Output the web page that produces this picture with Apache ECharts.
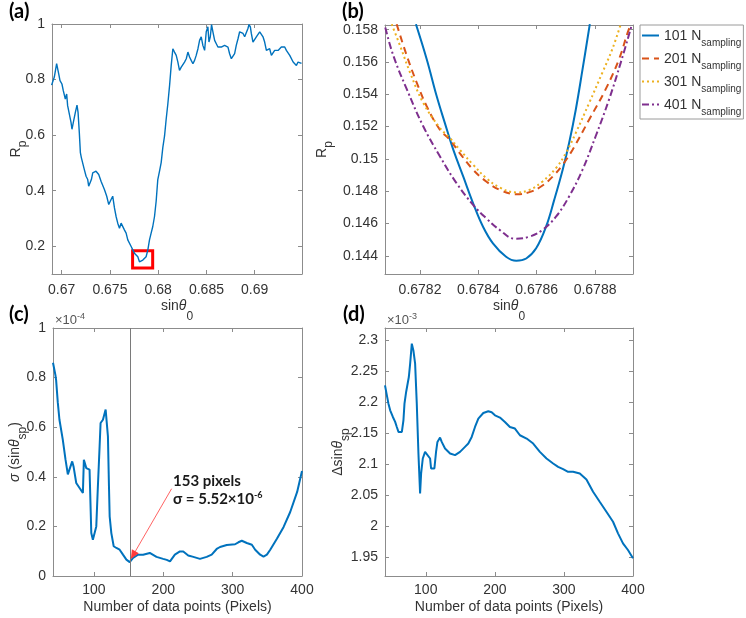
<!DOCTYPE html>
<html><head><meta charset="utf-8">
<script src="https://cdn.jsdelivr.net/npm/echarts@6/dist/echarts.min.js"></script>
<style>html,body{margin:0;padding:0;background:#fff}#c{width:746px;height:618px}</style>
</head><body><div id="c"></div>
<script>
// ---------- (a) Rp vs sin(theta0) ----------
const aX = [0.66896,0.66907,0.66924,0.66948,0.66969,0.66983,0.67003,0.67017,0.67038,0.67052,0.67062,0.6708,0.67097,0.67107,0.67121,0.67142,0.67159,0.6717,0.67183,0.67194,0.67204,0.67218,0.67235,0.67253,0.6727,0.6728,0.67294,0.67308,0.67322,0.67356,0.67384,0.67408,0.67426,0.67443,0.67467,0.67488,0.67512,0.67529,0.67547,0.67564,0.67581,0.67599,0.67616,0.67633,0.6765,0.67668,0.67685,0.67702,0.6772,0.67737,0.67754,0.67772,0.67789,0.67806,0.67823,0.67841,0.67858,0.67875,0.67893,0.6791,0.67927,0.67944,0.67962,0.67979,0.67996,0.68014,0.68031,0.68048,0.68066,0.68083,0.681,0.68118,0.68135,0.68152,0.68169,0.68187,0.68204,
0.68221,0.68239,0.68256,0.68273,0.68291,0.68308,0.68325,0.68342,0.6836,0.68377,0.68394,0.68412,0.68429,0.68446,0.68463,0.68481,0.68498,0.68515,0.68526,0.6854,0.68553,0.68567,0.68585,0.68602,0.68619,0.68636,0.68654,0.68671,0.68688,0.68706,0.68723,0.6874,0.68758,0.68775,0.68792,0.68809,0.68827,0.68844,0.68861,0.68879,0.68896,0.68913,0.6893,0.68941,0.68955,0.68965,0.68982,0.69,0.69017,0.69034,0.69052,0.69069,0.69086,0.69103,0.69121,0.69138,0.69155,0.69173,0.6919,0.69207,0.69225,0.69242,0.69259,0.69276,0.69294,0.69311,0.69328,0.69346,0.69363,0.6938,0.69398,0.69415,0.69432,0.69449,0.69467,0.69485];
const aY = [0.78,0.784,0.809,0.857,0.821,0.796,0.784,0.76,0.73,0.748,0.706,0.70,0.646,0.621,0.646,0.682,0.708,0.682,0.609,0.537,0.519,0.513,0.476,0.452,0.44,0.416,0.41,0.44,0.464,0.47,0.458,0.434,0.428,0.404,0.38,0.35,0.368,0.38,0.338,0.307,0.283,0.265,0.283,0.289,0.259,0.247,0.223,0.217,0.199,0.187,0.175,0.168,0.162,0.144,0.144,0.15,0.148,0.162,0.187,0.223,0.247,0.271,0.307,0.362,0.44,0.47,0.501,0.555,0.597,0.658,0.712,0.778,0.851,0.911,0.899,0.887,0.863,
0.833,0.845,0.839,0.863,0.875,0.899,0.881,0.869,0.857,0.869,0.887,0.911,0.941,0.954,0.923,0.905,0.972,0.99,0.935,0.954,0.998,0.972,0.941,0.929,0.917,0.911,0.917,0.911,0.923,0.929,0.917,0.893,0.875,0.881,0.893,0.923,0.947,0.972,0.978,0.966,0.954,0.96,0.984,0.998,0.99,0.966,0.935,0.941,0.954,0.96,0.972,0.966,0.954,0.935,0.905,0.899,0.911,0.887,0.881,0.905,0.899,0.905,0.911,0.917,0.923,0.917,0.905,0.899,0.887,0.893,0.863,0.857,0.851,0.863,0.857,0.858];
const aBoxX = [0.67735, 0.67943];
const aBoxY = [0.122, 0.184];
const aXTicks = [0.67, 0.675, 0.68, 0.685, 0.69];
const aYTicks = [0.2, 0.4, 0.6, 0.8, 1];

// ---------- (b) zoom around the minimum ----------
const bNames = ['101', '201', '301', '401'];
const b101X = [0.678186,0.678223,0.678257,0.678285,0.678314,0.678348,0.678382,0.678416,0.67845,0.678495,0.67853,0.678564,0.678598,0.678632,0.67866,0.678689,0.678711,0.678734,0.678757,0.678782];
const b101Y = [0.15834,0.15617,0.15389,0.15223,0.15057,0.14891,0.14725,0.1458,0.14477,0.14394,0.14369,0.14383,0.14446,0.1458,0.14746,0.14933,0.15098,0.15306,0.15554,0.15834];
const b201X = [0.67812,0.678155,0.678189,0.678223,0.678268,0.678302,0.678336,0.678382,0.678427,0.678473,0.67853,0.678575,0.67862,0.678655,0.678689,0.678723,0.67878,0.678836,0.678882,0.678916,0.678927];
const b201Y = [0.15834,0.15637,0.15471,0.15326,0.15181,0.15119,0.15036,0.14933,0.1486,0.14808,0.14781,0.14794,0.14835,0.14891,0.14964,0.15057,0.15244,0.1543,0.15617,0.15803,0.15834];
const b301X = [0.678103,0.678132,0.678166,0.678211,0.678268,0.678302,0.678336,0.678382,0.678427,0.678473,0.67853,0.678575,0.67862,0.678666,0.6787,0.678734,0.67878,0.678825,0.678859,0.678888];
const b301Y = [0.15834,0.15699,0.15534,0.15347,0.15192,0.1513,0.15057,0.14964,0.14881,0.14823,0.14792,0.14808,0.1486,0.14943,0.15036,0.15161,0.15347,0.15534,0.15679,0.15834];
const b401X = [0.678081,0.678109,0.678155,0.678211,0.678268,0.678325,0.678382,0.678427,0.678473,0.678524,0.678575,0.67862,0.678666,0.678711,0.678757,0.678802,0.678848,0.678888,0.678925];
const b401Y = [0.15813,0.15637,0.1543,0.15202,0.15016,0.1485,0.14715,0.14632,0.1456,0.14506,0.14518,0.1456,0.14642,0.14767,0.14933,0.1514,0.15368,0.15596,0.15824];
const bXTicks = [0.6782, 0.6784, 0.6786, 0.6788];
const bYTicks = [0.144, 0.146, 0.148, 0.15, 0.152, 0.154, 0.156, 0.158];

// ---------- (c) sigma vs number of pixels (x1e-4) ----------
const cX = [41,43,44.5,45.5,47.9,50.3,55.1,59,62.4,64.8,68.7,70.6,74.5,79.3,84.1,85.5,89,93.7,96.2,98.5,101,103.4,105.7,108.2,109.6,113,116.9,118.5,120.2,121.7,122.7,125.1,128.5,132.4,137.1,141.9,146.8,151.6,154,156.4,158.8,163.6,170.9,180.5,190.2,199.8,205,209.7,216.7,224,228.8,236,243.3,252.9,262.6,269.8,277,281.8,291.5,303.5,308.3,313.2,320.4,327.7,332.5,339.7,344.5,349.4,354.2,363.8,373.5,383,393,400];
const cY = [0.86,0.855,0.81,0.79,0.70,0.63,0.55,0.47,0.41,0.43,0.462,0.442,0.375,0.355,0.335,0.469,0.435,0.429,0.173,0.146,0.153,0.2,0.361,0.523,0.617,0.63,0.671,0.671,0.563,0.361,0.24,0.173,0.12,0.113,0.106,0.086,0.066,0.056,0.059,0.073,0.079,0.086,0.086,0.093,0.077,0.069,0.065,0.059,0.086,0.099,0.099,0.083,0.077,0.069,0.077,0.086,0.109,0.117,0.125,0.128,0.136,0.142,0.133,0.126,0.106,0.086,0.078,0.086,0.106,0.15,0.198,0.258,0.339,0.423];
const cBest = 153;
const cArrowFrom = [212, 0.352];
const cArrowTo = [156.5, 0.084];
const cNote = [214, 0.345];
const cNoteLines = ['153 pixels', 'σ = 5.52×10', '-6'];
const cXTicks = [100, 200, 300, 400];
const cYTicks = [0, 0.2, 0.4, 0.6, 0.8, 1];

// ---------- (d) delta sin(theta_sp) (x1e-3) ----------
const dX = [41,43.7,46,48.5,52.4,55.7,58.1,60.5,62.9,65.4,67.7,69.2,71.6,73.5,75.5,77.4,79.8,82.1,84.6,87,89.4,91.8,93.3,95.7,99,101.4,106.3,107.7,110.1,112.5,114.9,116.9,120.7,123.1,127.9,135.2,142.4,149.6,156.8,161.6,166.5,171.3,176.1,183.3,190.5,195.4,200.2,207.4,214.6,221.8,229.1,236.3,246,255.5,265.2,274.8,284.4,291.6,298.8,306,313.3,323,332.6,342.2,351.8,361.5,371.1,378.3,385.5,392.7,400];
const dY = [2.2275,2.2114,2.198,2.1873,2.1765,2.1685,2.1604,2.1524,2.1498,2.1524,2.1712,2.198,2.2168,2.2195,2.2409,2.2625,2.2947,2.2839,2.2625,2.198,2.1176,2.0532,2.0854,2.1095,2.1202,2.1176,2.1095,2.0934,2.096,2.0934,2.1202,2.1363,2.1433,2.1363,2.1256,2.1176,2.1149,2.1202,2.1283,2.1337,2.1443,2.1604,2.1739,2.1829,2.1857,2.1841,2.1792,2.1755,2.1685,2.1604,2.1578,2.147,2.1417,2.1337,2.1202,2.1095,2.1015,2.096,2.0923,2.088,2.088,2.0854,2.0757,2.0558,2.0397,2.0236,2.0075,1.9888,1.9727,1.9619,1.9485];
const dXTicks = [100, 200, 300, 400];
const dYTicks = [1.95, 2, 2.05, 2.1, 2.15, 2.2, 2.25, 2.3];

// ---------- styling ----------
const FONT = "'Liberation Sans', Arial, sans-serif";
const BOLDF = "Lato, 'Open Sans', sans-serif";
const TXT = '#333333';
const AXC = '#8c8c8c';
const COL = ['#0072BD', '#D95319', '#EDB120', '#7E2F8E'];
const DASH = ['solid', [7, 5], [2, 3], [7, 3, 2, 3]];

function zip(xs, ys) { return xs.map((x, i) => [x, ys[i]]); }
function fmt(v) { return String(parseFloat(Number(v).toFixed(6))); }

const subRich = (L) => ({
  r: { fontSize: 14, fontFamily: FONT, color: TXT, lineHeight: L, verticalAlign: 'middle' },
  i: { fontSize: 14, fontFamily: FONT, color: TXT, lineHeight: L, verticalAlign: 'middle', fontStyle: 'italic' },
  s: { fontSize: 12, fontFamily: FONT, color: TXT, lineHeight: 12, verticalAlign: 'bottom' }
});

function xAx(g, min, max, ticks, bottom, o) {
  o = o || {};
  return {
    type: 'value', gridIndex: g, min: min, max: max, position: bottom ? 'bottom' : 'top',
    axisLine: { show: true, onZero: false, lineStyle: { color: AXC, width: 1 } },
    axisTick: { show: true, inside: true, length: 4, customValues: ticks, lineStyle: { color: AXC, width: 1 } },
    axisLabel: { show: bottom, customValues: ticks, margin: o.margin || 8, fontSize: 14, color: TXT, fontFamily: FONT, formatter: fmt },
    splitLine: { show: false },
    name: bottom ? (o.name || '') : '', nameLocation: 'middle', nameGap: o.nameGap || 20, nameMoveOverlap: false,
    nameTextStyle: o.nts || {}, silent: true
  };
}
function yAx(g, min, max, ticks, left, o) {
  o = o || {};
  return {
    type: 'value', gridIndex: g, min: min, max: max, position: left ? 'left' : 'right',
    axisLine: { show: true, onZero: false, lineStyle: { color: AXC, width: 1 } },
    axisTick: { show: true, inside: true, length: 4, customValues: ticks, lineStyle: { color: AXC, width: 1 } },
    axisLabel: { show: left, customValues: ticks, margin: o.margin || 7, fontSize: 14, color: TXT, fontFamily: FONT, formatter: fmt },
    splitLine: { show: false },
    name: left ? (o.name || '') : '', nameLocation: 'middle', nameGap: o.nameGap || 20, nameRotate: 90, nameMoveOverlap: false,
    nameTextStyle: o.nts || {}, silent: true
  };
}

const sinName = { name: '{r|sin}{i|θ}{s|0}', nts: { rich: subRich(33) } };
const pixName = { name: 'Number of data points (Pixels)', nts: { fontSize: 14, fontFamily: FONT, color: TXT } };

const option = {
  animation: false,
  backgroundColor: '#ffffff',
  grid: [
    { left: 52, top: 24, width: 250, height: 250, outerBoundsMode: 'none' },
    { left: 385, top: 25, width: 248, height: 249, outerBoundsMode: 'none' },
    { left: 53, top: 328, width: 249, height: 248, outerBoundsMode: 'none' },
    { left: 385, top: 328, width: 248, height: 248, outerBoundsMode: 'none' }
  ],
  xAxis: [
    xAx(0, 0.669, 0.6949, aXTicks, true, Object.assign({ margin: 9, nameGap: 16 }, sinName)),
    xAx(1, 0.67808, 0.67893, bXTicks, true, Object.assign({ margin: 9, nameGap: 16 }, sinName)),
    xAx(2, 41, 400, cXTicks, true, Object.assign({ margin: 7, nameGap: 24 }, pixName)),
    xAx(3, 41, 400, dXTicks, true, Object.assign({ margin: 7, nameGap: 24 }, pixName)),
    xAx(0, 0.669, 0.6949, aXTicks, false),
    xAx(1, 0.67808, 0.67893, bXTicks, false),
    xAx(2, 41, 400, cXTicks, false),
    xAx(3, 41, 400, dXTicks, false)
  ],
  yAxis: [
    yAx(0, 0.1, 1, aYTicks, true, { nameGap: 23, name: '{r|R}{s|p}', nts: { rich: subRich(26) } }),
    yAx(1, 0.14287, 0.15829, bYTicks, true, { nameGap: 50, name: '{r|R}{s|p}', nts: { rich: subRich(26) } }),
    yAx(2, 0, 1, cYTicks, true, { nameGap: 24, name: '{i|σ}{r| (sin}{i|θ}{s|sp}{r|)}', nts: { rich: subRich(28) } }),
    yAx(3, 1.92, 2.32, dYTicks, true, { nameGap: 33, name: '{r|Δsin}{i|θ}{s|sp}', nts: { rich: subRich(28) } }),
    yAx(0, 0.1, 1, aYTicks, false),
    yAx(1, 0.14287, 0.15829, bYTicks, false),
    yAx(2, 0, 1, cYTicks, false),
    yAx(3, 1.92, 2.32, dYTicks, false)
  ],
  legend: {
    data: bNames, left: 640, top: 25, orient: 'vertical',
    itemWidth: 17, itemHeight: 2, itemGap: 0,
    itemStyle: { opacity: 0 },
    padding: [1, 2, 1, 1], borderColor: '#9a9a9a', borderWidth: 1, backgroundColor: '#ffffff',
    selectedMode: false,
    formatter: (n) => '{n|' + n + ' N}{s|sampling}',
    textStyle: {
      color: TXT, fontFamily: FONT, fontSize: 14, lineHeight: 23,
      rich: {
        n: { fontSize: 14, fontFamily: FONT, color: TXT, lineHeight: 19, padding: [3, 0, 1, 0], verticalAlign: 'top' },
        s: { fontSize: 10, fontFamily: FONT, color: TXT, lineHeight: 10, padding: [12, 0, 1, 0], verticalAlign: 'top' }
      }
    }
  },
  series: [
    {
      type: 'line', name: 'a', xAxisIndex: 0, yAxisIndex: 0, data: zip(aX, aY), symbol: 'none',
      lineStyle: { color: COL[0], width: 1.4 }, silent: true,
      markArea: {
        silent: true,
        itemStyle: { color: 'rgba(0,0,0,0)', borderColor: '#ff0000', borderWidth: 3 },
        data: [[{ coord: [aBoxX[0], aBoxY[1]] }, { coord: [aBoxX[1], aBoxY[0]] }]]
      }
    },
    { type: 'line', name: bNames[0], xAxisIndex: 1, yAxisIndex: 1, data: zip(b101X, b101Y), symbol: 'none', smooth: 0.4,
      itemStyle: { color: COL[0] }, lineStyle: { color: COL[0], width: 2, type: DASH[0] } },
    { type: 'line', name: bNames[1], xAxisIndex: 1, yAxisIndex: 1, data: zip(b201X, b201Y), symbol: 'none', smooth: 0.4,
      itemStyle: { color: COL[1] }, lineStyle: { color: COL[1], width: 2, type: DASH[1] } },
    { type: 'line', name: bNames[2], xAxisIndex: 1, yAxisIndex: 1, data: zip(b301X, b301Y), symbol: 'none', smooth: 0.4,
      itemStyle: { color: COL[2] }, lineStyle: { color: COL[2], width: 2, type: DASH[2] } },
    { type: 'line', name: bNames[3], xAxisIndex: 1, yAxisIndex: 1, data: zip(b401X, b401Y), symbol: 'none', smooth: 0.4,
      itemStyle: { color: COL[3] }, lineStyle: { color: COL[3], width: 2, type: DASH[3] } },
    {
      type: 'line', name: 'c', xAxisIndex: 2, yAxisIndex: 2, data: zip(cX, cY), symbol: 'none',
      lineStyle: { color: COL[0], width: 2 }, silent: true,
      markLine: {
        silent: true, symbol: ['none', 'none'], label: { show: false },
        data: [
          { xAxis: cBest, lineStyle: { color: '#7a7a7a', width: 1, type: 'solid' } },
          [
            { coord: cArrowFrom, symbol: 'none', lineStyle: { color: '#ff3b3b', width: 0.8, type: 'solid' } },
            { coord: cArrowTo, symbol: 'triangle', symbolSize: [8, 9], itemStyle: { color: '#ff0000' } }
          ]
        ]
      },
      markPoint: {
        silent: true, symbol: 'rect', symbolSize: 1, itemStyle: { color: 'rgba(0,0,0,0)' },
        data: [{
          coord: cNote,
          label: {
            show: true, position: 'inside', align: 'left', verticalAlign: 'middle',
            formatter: '{b|' + cNoteLines[0] + '}\n{b|' + cNoteLines[1] + '}{p|' + cNoteLines[2] + '}',
            rich: {
              b: { fontFamily: BOLDF, fontWeight: 'bold', fontSize: 15, color: '#1a1a1a', lineHeight: 18, verticalAlign: 'middle' },
              p: { fontFamily: BOLDF, fontWeight: 'bold', fontSize: 9, color: '#1a1a1a', lineHeight: 9, verticalAlign: 'top' }
            }
          }
        }]
      }
    },
    { type: 'line', name: 'd', xAxisIndex: 3, yAxisIndex: 3, data: zip(dX, dY), symbol: 'none',
      lineStyle: { color: COL[0], width: 2 }, silent: true }
  ],
  graphic: [
    { type: 'text', x: 9, y: 12, style: { text: '(a)', fontFamily: BOLDF, fontWeight: 'bold', fontSize: 20, fill: '#000', verticalAlign: 'middle' } },
    { type: 'text', x: 342, y: 12, style: { text: '(b)', fontFamily: BOLDF, fontWeight: 'bold', fontSize: 20, fill: '#000', verticalAlign: 'middle' } },
    { type: 'text', x: 9, y: 315, style: { text: '(c)', fontFamily: BOLDF, fontWeight: 'bold', fontSize: 20, fill: '#000', verticalAlign: 'middle' } },
    { type: 'text', x: 343, y: 315, style: { text: '(d)', fontFamily: BOLDF, fontWeight: 'bold', fontSize: 20, fill: '#000', verticalAlign: 'middle' } },
    { type: 'text', x: 55, y: 320, style: { text: '{r|×10}{p|-4}', verticalAlign: 'middle',
      rich: { r: { fontSize: 13, fontFamily: FONT, fill: '#555', lineHeight: 16, verticalAlign: 'middle' },
              p: { fontSize: 9, fontFamily: FONT, fill: '#555', lineHeight: 9, verticalAlign: 'top' } } } },
    { type: 'text', x: 387, y: 320, style: { text: '{r|×10}{p|-3}', verticalAlign: 'middle',
      rich: { r: { fontSize: 13, fontFamily: FONT, fill: '#555', lineHeight: 16, verticalAlign: 'middle' },
              p: { fontSize: 9, fontFamily: FONT, fill: '#555', lineHeight: 9, verticalAlign: 'top' } } } }
  ]
};

const chart = echarts.init(document.getElementById('c'), null, { renderer: 'canvas', width: 746, height: 618 });
chart.setOption(option);
</script>
</body></html>
